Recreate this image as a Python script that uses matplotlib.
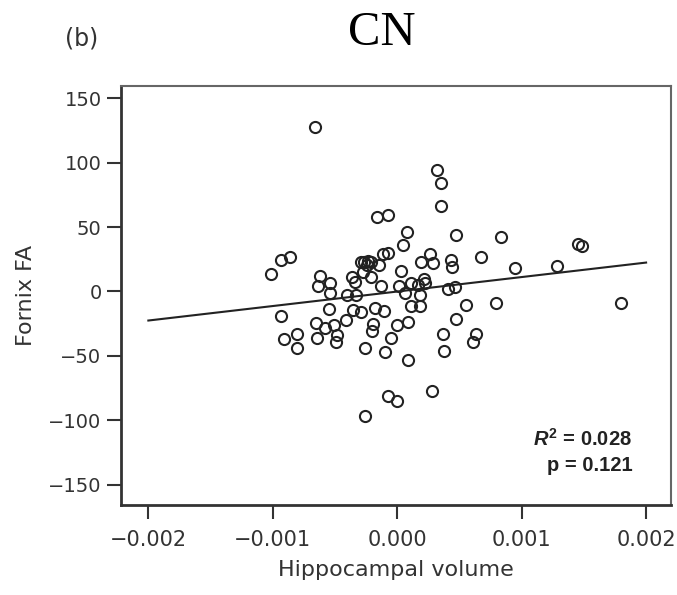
import matplotlib
matplotlib.use("Agg")
from matplotlib import pyplot as plt
import numpy as np

# Scatter: Fornix FA vs hippocampal volume (CN group)
hippo_vol = [-0.000663, -0.000162, -0.000071, -0.001018, -0.000930, -0.000858,
             0.000323, 0.000355, 0.000355, 0.000080, 0.000047, 0.000470,
             0.000837, 0.001450, 0.001484, 0.000671, 0.000944, 0.001287,
             0.000430, 0.000438, 0.000267, 0.000285, 0.000189, 0.000034,
             -0.000071, -0.000114, -0.000146, -0.000293, -0.000265, -0.000237,
             -0.000213, -0.000245, -0.000273, -0.000207, -0.000360, -0.000341,
             -0.000622, -0.000636, -0.000537, -0.000537, -0.000406, -0.000333,
             -0.000133, 0.000014, 0.000060, 0.000114, 0.000167, 0.000181,
             0.000217, 0.000221, 0.000408, 0.000462, 0.000114, 0.000181,
             0.000556, 0.000795, 0.001801, -0.000548, -0.000930, -0.000912,
             -0.000807, -0.000805, -0.000656, -0.000644, -0.000581, -0.000510,
             -0.000480, -0.000488, -0.000410, -0.000355, -0.000288, -0.000181,
             -0.000110, -0.000193, -0.000201, -0.000261, -0.000098, -0.000047,
             0.000000, 0.000087, 0.000087, -0.000074, -0.000004, -0.000259,
             0.000283, 0.000470, 0.000369, 0.000378, 0.000635, 0.000606]

fornix_fa = [127.5, 57.6, 59.2, 13.6, 24.2, 26.6,
             94.3, 84.5, 66.6, 45.8, 36.1, 43.6,
             42.1, 36.9, 35.6, 27.0, 18.0, 19.6,
             24.5, 19.3, 29.3, 22.1, 23.1, 15.9,
             29.9, 28.7, 20.6, 22.9, 22.9, 23.3,
             22.9, 20.6, 15.4, 11.5, 11.5, 7.6,
             12.3, 4.3, 6.4, -1.4, -2.5, -2.7,
             4.0, 3.9, -1.6, 6.4, 5.0, -2.7,
             9.7, 6.4, 1.9, 3.7, -11.3, -11.3,
             -10.5, -9.2, -9.2, -13.8, -19.0, -37.3,
             -33.4, -43.9, -24.2, -35.9, -28.3, -25.8,
             -33.8, -39.1, -22.4, -14.6, -16.1, -13.0,
             -15.5, -25.2, -30.4, -43.6, -47.0, -36.1,
             -26.2, -23.4, -53.6, -80.9, -84.9, -96.5,
             -77.0, -21.6, -33.0, -46.4, -33.0, -39.0]

fit_x = [-0.002, 0.002]
fit_y = [-22.6, 22.4]

xticks = [-0.002, -0.001, 0.0, 0.001, 0.002]
xtick_labels = ["\u22120.002", "\u22120.001", "0.000", "0.001", "0.002"]
yticks = [-150, -100, -50, 0, 50, 100, 150]

plt.rcParams["font.family"] = ["DejaVu Sans"]
plt.rcParams["mathtext.fontset"] = "custom"
plt.rcParams["mathtext.it"] = "Liberation Sans:italic:bold"
plt.rcParams["mathtext.rm"] = "Liberation Sans:bold"

fig = plt.figure(figsize=(6.77, 5.95), dpi=100)
ax = fig.add_axes([0.1787, 0.1513, 0.8124, 0.7042])

ax.plot(hippo_vol, fornix_fa, linestyle="none", marker="o", markersize=8,
        markerfacecolor="none", markeredgecolor="#222222", markeredgewidth=1.5)
ax.plot(fit_x, fit_y, color="#222222", linewidth=1.5)

ax.set_xlim(-0.00222, 0.0022)
ax.set_ylim(-165.8, 159.5)
ax.set_xticks(xticks)
ax.set_xticklabels(xtick_labels)
ax.set_yticks(yticks)
ax.set_yticklabels([str(v).replace("-", "\u2212") for v in yticks])
ax.tick_params(direction="out", length=10, width=1.5, colors="#333333")
ax.tick_params(axis="x", labelsize=15, pad=8)
ax.tick_params(axis="y", labelsize=14, pad=4)

for side in ["left", "bottom"]:
    ax.spines[side].set_linewidth(2)
    ax.spines[side].set_color("#333333")
for side in ["top", "right"]:
    ax.spines[side].set_linewidth(1.5)
    ax.spines[side].set_color("#666666")

ax.set_xlabel("Hippocampal volume", fontsize=16, color="#333333", labelpad=7)
ax.set_ylabel("Fornix FA", fontsize=16, color="#333333", labelpad=9)

ax.text(0.93, 0.158, r"$R^2$ = 0.028", transform=ax.transAxes, ha="right",
        va="center", fontsize=14.5, fontweight="bold", family="Liberation Sans",
        color="#222222")
ax.text(0.93, 0.095, "p = 0.121", transform=ax.transAxes, ha="right",
        va="center", fontsize=14.5, fontweight="bold", family="Liberation Sans",
        color="#222222")

fig.text(0.564, 0.945, "CN", fontsize=35, family="Liberation Serif",
         ha="center", va="center")
fig.text(0.12, 0.935, "(b)", fontsize=17, color="#333333",
         ha="center", va="center")

fig.savefig("out.png", dpi=100)
